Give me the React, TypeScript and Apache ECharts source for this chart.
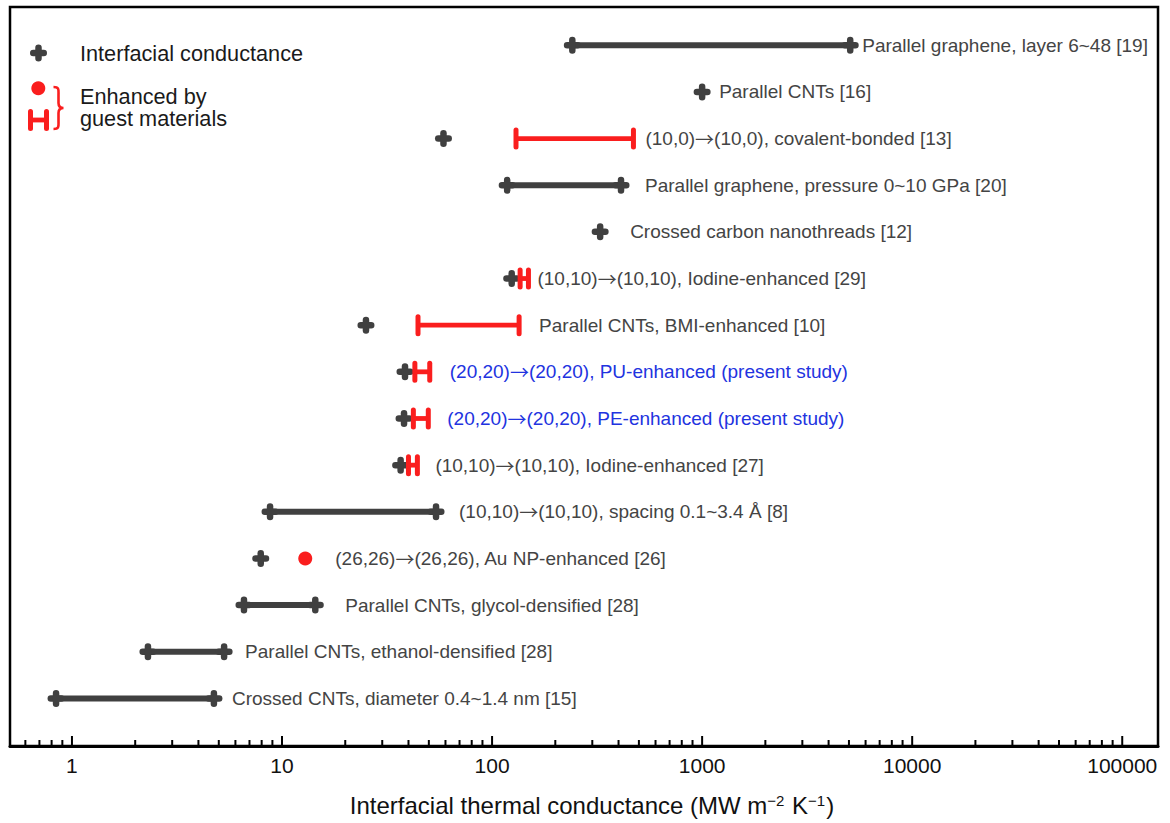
import React, { useEffect, useRef } from 'react';
import * as echarts from 'echarts';

const rowLabels = [
  'Parallel graphene, layer 6~48 [19]',
  'Parallel CNTs [16]',
  '(10,0)\u2192(10,0), covalent-bonded [13]',
  'Parallel graphene, pressure 0~10 GPa [20]',
  'Crossed carbon nanothreads [12]',
  '(10,10)\u2192(10,10), Iodine-enhanced [29]',
  'Parallel CNTs, BMI-enhanced [10]',
  '(20,20)\u2192(20,20), PU-enhanced (present study)',
  '(20,20)\u2192(20,20), PE-enhanced (present study)',
  '(10,10)\u2192(10,10), Iodine-enhanced [27]',
  '(10,10)\u2192(10,10), spacing 0.1~3.4 \u00C5 [8]',
  '(26,26)\u2192(26,26), Au NP-enhanced [26]',
  'Parallel CNTs, glycol-densified [28]',
  'Parallel CNTs, ethanol-densified [28]',
  'Crossed CNTs, diameter 0.4~1.4 nm [15]',
];
const presentStudy = [false, false, false, false, false, false, false, true, true, false, false, false, false, false, false];

// interfacial conductance (dark), low / high ends (MW m^-2 K^-1)
const darkLow = [241, 1000, 58.7, 118, 327, 124, 25.1, 38.5, 38.1, 36.7, 8.77, 7.92, 6.59, 2.3, 0.84];
const darkHigh = [5070, 1000, 58.7, 411, 327, 124, 25.1, 38.5, 38.1, 36.7, 54.1, 7.92, 14.4, 5.3, 4.74];
// enhanced by guest materials (red)
const redLow = [null, null, 130, null, null, 136, 44.4, 42.9, 42.2, 40.0, null, null, null, null, null];
const redHigh = [null, null, 471, null, null, 149, 134.5, 50.5, 49.7, 44.1, null, null, null, null, null];
const redPoint = [null, null, null, null, null, null, null, null, null, null, null, 12.9, null, null, null];

const xTickValues = [1, 10, 100, 1000, 10000, 100000];
const xTickLabels = ['1', '10', '100', '1000', '10000', '100000'];

// label offset (px) from rightmost marker
const labelGap = [12, 17, 12, 24, 30, 9, 20, 20, 19, 18, 23, 30, 30, 21, 18];

const FONT = '"Liberation Sans", Arial, Helvetica, sans-serif';
const ARROW_FONT = '"Noto Sans CJK SC", "DejaVu Sans", sans-serif';
const DARK = '#404040';
const RED = '#fa1e1e';
const BLUE = '#2233e0';
const TEXT = '#444444';

function crossShapes(cx: number, cy: number, fill: string) {
  const L = 17, T = 6.5;
  return [
    { type: 'rect', shape: { x: cx - L / 2, y: cy - T / 2, width: L, height: T, r: T / 2 }, style: { fill } },
    { type: 'rect', shape: { x: cx - T / 2, y: cy - L / 2, width: T, height: L, r: T / 2 }, style: { fill } },
  ];
}
function capShape(cx: number, cy: number, fill: string) {
  const W = 5, H = 22;
  return { type: 'rect', shape: { x: cx - W / 2, y: cy - H / 2, width: W, height: H, r: W / 2 }, style: { fill } };
}
function richLabel(s: string) {
  return s.split('\u2192').join('{arr|\u2192}');
}

export default function App() {
  const ref = useRef<HTMLDivElement>(null);
  useEffect(() => {
    document.body.style.margin = '0';
    if (!ref.current) return;
    const chart = echarts.init(ref.current, null, { renderer: 'svg' });

    echarts.graphic.registerShape(
      'brace',
      echarts.graphic.extendPath('M0,0 C6,0 5,3 5,8 L5,16 C5,19 6,21 10,21 C6,21 5,23 5,26 L5,34 C5,39 6,42 0,42', {})
    );

    const rows = rowLabels.map((_, i) => i + 1);
    const darkData = rows.map((r, i) => [darkLow[i], darkHigh[i], r]);
    const redData = rows
      .map((r, i) => (redLow[i] != null ? [redLow[i], redHigh[i], r] : null))
      .filter((d) => d != null);
    const redPointData = rows
      .map((r, i) => (redPoint[i] != null ? [redPoint[i], r] : null))
      .filter((d) => d != null);
    const labelData = rows.map((r, i) => {
      const vals = [darkHigh[i], redHigh[i], redPoint[i]].filter((v) => v != null) as number[];
      return [Math.max(...vals), r, i];
    });
    const tickData: number[][] = [];
    for (let e = -1; e <= 5; e++) {
      for (let m = 1; m <= 9; m++) {
        const v = m * Math.pow(10, e);
        if (v < 0.507 || v > 148000) continue;
        tickData.push([v, m === 1 ? 1 : 0]);
      }
    }

    const option: any = {
      animation: false,
      grid: { left: 10, right: 12, top: 7, bottom: 77, show: true, borderColor: '#000', borderWidth: 2.5, backgroundColor: 'transparent' },
      xAxis: {
        type: 'log',
        logBase: 10,
        min: 0.507,
        max: 148000,
        splitLine: { show: false },
        axisTick: { show: false },
        minorTick: { show: false },
        axisLine: { show: true, lineStyle: { color: '#000', width: 3 } },
        axisLabel: {
          margin: 9,
          fontSize: 21,
          color: '#111',
          fontFamily: FONT,
          showMinLabel: false,
          showMaxLabel: false,
          formatter: (v: number) => {
            const idx = xTickValues.findIndex((t) => Math.abs(Math.log10(v) - Math.log10(t)) < 1e-6);
            return idx >= 0 ? xTickLabels[idx] : '';
          },
        },
        name: 'Interfacial thermal conductance (MW m{sup|\u22122} K{sup|\u22121})',
        nameLocation: 'middle',
        nameGap: 47,
        nameTextStyle: {
          fontSize: 24,
          color: '#111',
          fontFamily: FONT,
          padding: [0, 0, 0, 16],
          rich: { sup: { fontSize: 15, fontFamily: FONT, color: '#111', verticalAlign: 'top', padding: [0, 1, 10, 0] } },
        },
      },
      yAxis: { type: 'value', inverse: true, min: 0.18, max: 16.02, show: false },
      series: [
        {
          type: 'custom',
          name: 'ticks',
          data: tickData,
          silent: true,
          encode: { x: 0 },
          renderItem: (params: any, api: any) => {
            const x = api.coord([api.value(0), 1])[0];
            const bottom = params.coordSys.y + params.coordSys.height;
            const len = api.value(1) === 1 ? 9 : 5;
            return { type: 'line', shape: { x1: x, y1: bottom - 1, x2: x, y2: bottom - 1 - len }, style: { stroke: '#000', lineWidth: 2 } };
          },
        },
        {
          type: 'custom',
          name: 'Interfacial conductance',
          data: darkData,
          encode: { x: [0, 1], y: 2 },
          renderItem: (params: any, api: any) => {
            const row = api.value(2);
            const p1 = api.coord([api.value(0), row]);
            const p2 = api.coord([api.value(1), row]);
            const children: any[] = [];
            if (p2[0] - p1[0] > 1) {
              children.push({ type: 'rect', shape: { x: p1[0], y: p1[1] - 3, width: p2[0] - p1[0], height: 6 }, style: { fill: DARK } });
              children.push(...crossShapes(p1[0], p1[1], DARK));
              children.push(...crossShapes(p2[0], p2[1], DARK));
            } else {
              children.push(...crossShapes(p1[0], p1[1], DARK));
            }
            return { type: 'group', children };
          },
        },
        {
          type: 'custom',
          name: 'Enhanced by guest materials',
          data: redData,
          encode: { x: [0, 1], y: 2 },
          renderItem: (params: any, api: any) => {
            const row = api.value(2);
            const p1 = api.coord([api.value(0), row]);
            const p2 = api.coord([api.value(1), row]);
            return {
              type: 'group',
              children: [
                { type: 'rect', shape: { x: p1[0], y: p1[1] - 2.4, width: p2[0] - p1[0], height: 4.8 }, style: { fill: RED } },
                capShape(p1[0], p1[1], RED),
                capShape(p2[0], p2[1], RED),
              ],
            };
          },
        },
        {
          type: 'scatter',
          name: 'Enhanced point',
          data: redPointData,
          symbol: 'circle',
          symbolSize: 14,
          itemStyle: { color: RED, opacity: 1 },
        },
        {
          type: 'custom',
          name: 'labels',
          data: labelData,
          encode: { x: 0, y: 1 },
          renderItem: (params: any, api: any) => {
            const i = api.value(2);
            const p = api.coord([api.value(0), api.value(1)]);
            const fill = presentStudy[i] ? BLUE : TEXT;
            return {
              type: 'text',
              style: {
                text: richLabel(rowLabels[i]),
                x: p[0] + labelGap[i],
                y: p[1],
                fill,
                fontSize: 19,
                fontFamily: FONT,
                align: 'left',
                verticalAlign: 'middle',
                rich: { arr: { fontSize: 19, fontFamily: ARROW_FONT, fill } },
              },
            };
          },
        },
      ],
      graphic: [
        { type: 'rect', shape: { x: 30, y: 49.75, width: 17, height: 6.5, r: 3.25 }, style: { fill: DARK } },
        { type: 'rect', shape: { x: 35.25, y: 44.5, width: 6.5, height: 17, r: 3.25 }, style: { fill: DARK } },
        { type: 'text', x: 80, y: 53, style: { text: 'Interfacial conductance', fontSize: 21.7, fontFamily: FONT, fill: '#1a1a1a', verticalAlign: 'middle' } },
        { type: 'circle', shape: { cx: 38.3, cy: 88.3, r: 7 }, style: { fill: RED } },
        { type: 'rect', shape: { x: 28.5, y: 117.6, width: 19, height: 4.8 }, style: { fill: RED } },
        { type: 'rect', shape: { x: 28, y: 109, width: 5, height: 22, r: 2.5 }, style: { fill: RED } },
        { type: 'rect', shape: { x: 44, y: 109, width: 5, height: 22, r: 2.5 }, style: { fill: RED } },
        { type: 'brace', x: 53.5, y: 87, style: { fill: 'none', stroke: RED, lineWidth: 2.6 } },
        { type: 'text', x: 80, y: 107, style: { text: 'Enhanced by\nguest materials', fontSize: 21.7, lineHeight: 22, fontFamily: FONT, fill: '#1a1a1a', verticalAlign: 'middle' } },
      ],
    };
    chart.setOption(option);
    return () => chart.dispose();
  }, []);
  return <div ref={ref} style={{ width: 1170, height: 823 }} />;
}
